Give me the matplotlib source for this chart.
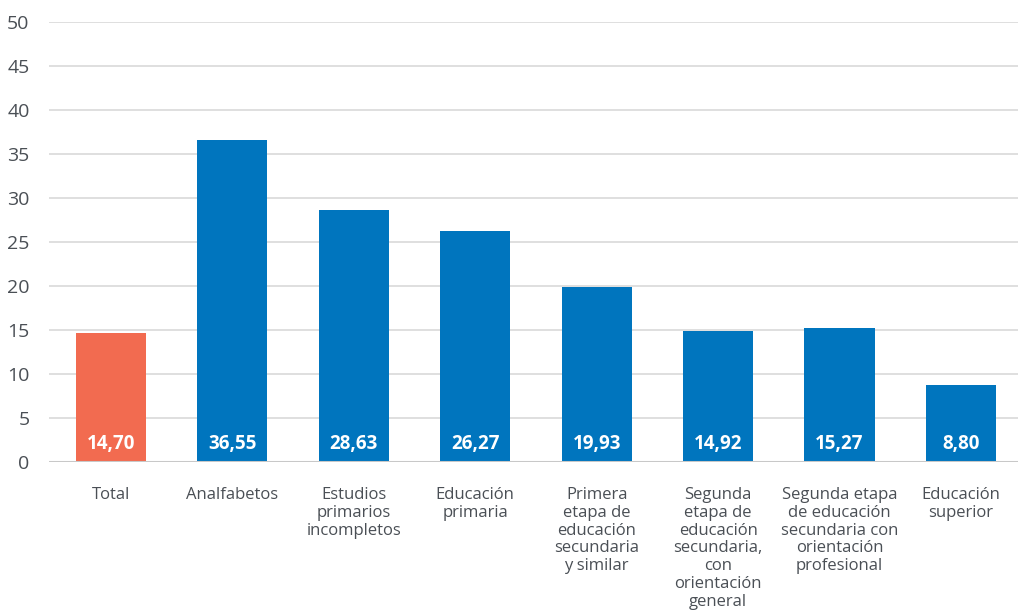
import matplotlib
matplotlib.use("Agg")
import matplotlib.pyplot as plt

categories = [
    "Total",
    "Analfabetos",
    "Estudios\nprimarios\nincompletos",
    "Educación\nprimaria",
    "Primera\netapa de\neducación\nsecundaria\ny similar",
    "Segunda\netapa de\neducación\nsecundaria,\ncon\norientación\ngeneral",
    "Segunda etapa\nde educación\nsecundaria con\norientación\nprofesional",
    "Educación\nsuperior",
]
values = [14.70, 36.55, 28.63, 26.27, 19.93, 14.92, 15.27, 8.80]
value_labels = ["14,70", "36,55", "28,63", "26,27", "19,93", "14,92", "15,27", "8,80"]
colors = ["#F26B50"] + ["#0075BE"] * 7
yticks = [0, 5, 10, 15, 20, 25, 30, 35, 40, 45, 50]

plt.rcParams['font.family'] = ['Open Sans', 'DejaVu Sans']
W, H = 1018, 610
fig = plt.figure(figsize=(W / 100, H / 100), dpi=100)
ax = fig.add_axes([49 / W, (610 - 462) / H, (1018 - 49) / W, (462 - 22) / H])

x = list(range(len(categories)))
ax.bar(x, values, width=0.577, color=colors, zorder=3)

for xi, lab in zip(x, value_labels):
    ax.text(xi, 2.0, lab, ha="center", va="center", color="white",
            fontsize=13.5, fontweight="bold", zorder=4)

ax.set_ylim(0, 50)
ax.set_xlim(-0.51, 7.47)
ax.set_yticks(yticks)
ax.set_yticklabels([str(t) for t in yticks], fontsize=14, color="#4A4F55")
ax.yaxis.grid(True, color="#D9D9D9", linewidth=1.2, zorder=0)
ax.axhline(0, color="#C8C8C8", linewidth=2.2, zorder=3)
ax.tick_params(axis="y", length=0, pad=14)
ax.tick_params(axis="x", length=0, pad=18)
ax.set_xticks(x)
ax.set_xticklabels(categories, fontsize=12, color="#4A4F55", linespacing=1.15, va="top")
for s in ax.spines.values():
    s.set_visible(False)

fig.savefig("out.png", dpi=100)
